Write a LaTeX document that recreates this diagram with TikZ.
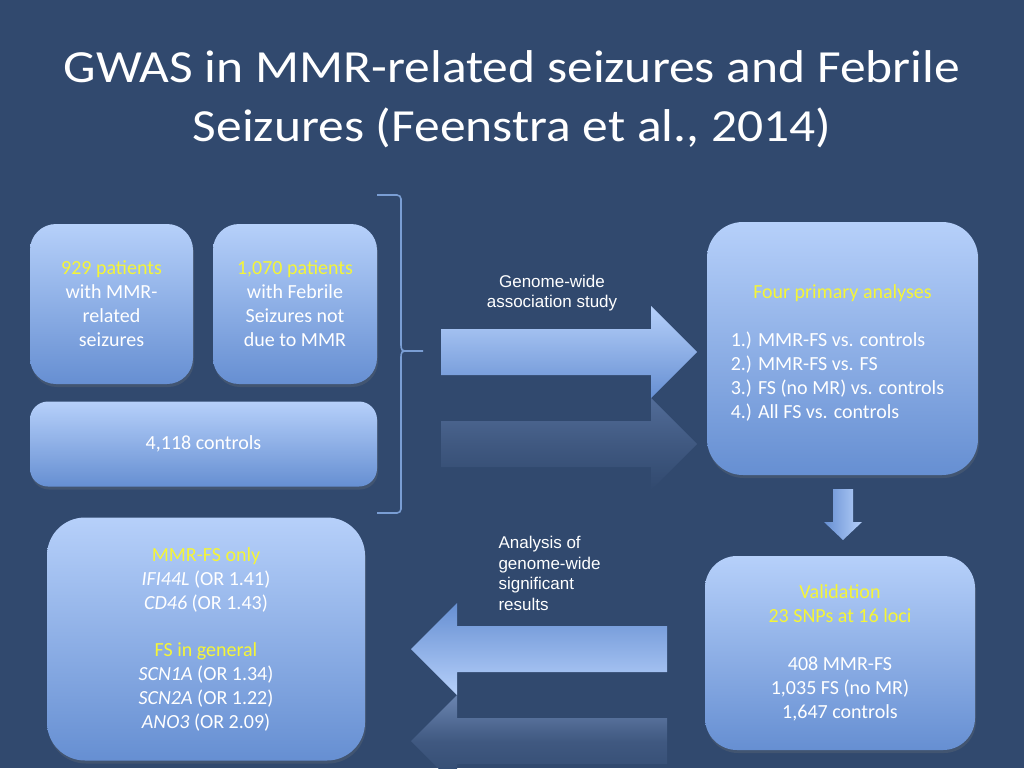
\documentclass[tikz,border=0pt]{standalone}
\usepackage{fontspec}
\setmainfont{Carlito}
\newfontfamily\titlefont[FakeStretch=1.12]{Carlito}
\newfontfamily\labelfont{Liberation Sans}
\usepackage{xcolor}
\usetikzlibrary{shapes,arrows,positioning,shadows,calc}
\definecolor{bg}{RGB}{49,73,110}
\definecolor{boxtop}{RGB}{182,208,250}
\definecolor{boxbot}{RGB}{102,143,210}
\definecolor{yel}{RGB}{245,245,55}
\definecolor{bracecol}{RGB}{122,158,212}
\definecolor{refl}{RGB}{82,108,152}

\begin{document}
\begin{tikzpicture}[x=1pt,y=-1pt,
  box/.style={rectangle, top color=boxtop, bottom color=boxbot, text=white, align=center,
    inner sep=0pt, font=\fontsize{20}{24}\selectfont,
    drop shadow={opacity=0.22, shadow xshift=1pt, shadow yshift=-3pt}},
  lbl/.style={text=white, font=\labelfont\fontsize{17}{20.5}\selectfont},
  brc/.style={bracecol, line width=1.6pt}]
\useasboundingbox (0,0) rectangle (1024,768);
\fill[bg] (0,0) rectangle (1024,768);

\node[text=white, font=\titlefont\fontsize{46}{59}\selectfont, align=center] (title) at (512,99)
  {GWAS in MMR-related seizures and Febrile\\Seizures (Feenstra et al., 2014)};

\node[box, rounded corners=26pt, minimum width=163pt, minimum height=160pt] (mmr) at (111.5,304)
  {\color{yel}929 patients\\with MMR-\\related\\seizures};
\node[box, rounded corners=26pt, minimum width=164pt, minimum height=160pt] (febrile) at (295,304)
  {\color{yel}1,070 patients\\with Febrile\\Seizures not\\due to MMR};
\node[box, rounded corners=18pt, minimum width=347pt, minimum height=85pt] (controls) at (203.5,444)
  {4,118 controls};

\coordinate (bracetip) at (423,351);
\draw[brc, rounded corners=4pt] (377,195) -- (401,195) -- (401,343);
\draw[brc] (401,342) .. controls (401,351) .. (409,351) -- (bracetip);
\draw[brc] (401,360) .. controls (401,351) .. (409,351);
\draw[brc, rounded corners=4pt] (401,359) -- (401,513) -- (377,513);

\shade[top color=refl, bottom color=bg, middle color=bg!55!refl]
  (441,421) -- (651,421) -- (651,398) -- (697,444) -- (651,490) -- (651,467) -- (441,467) -- cycle;
\shade[top color=boxtop, bottom color=boxbot]
  (441,329) -- (651,329) -- (651,306) -- (697,352) -- (651,398) -- (651,375) -- (441,375) -- cycle;
\node[lbl, align=center] (gwaslbl) at (552,293) {Genome-wide\\association study};

\node[box, rounded corners=36pt, minimum width=271pt, minimum height=253pt] (four) at (842.5,348.5)
  {\rule{0pt}{28pt}\color{yel}Four primary analyses\\[24pt]
   \begin{tabular}[t]{@{}l@{}}1.) MMR-FS vs. controls\\2.) MMR-FS vs. FS\\3.) FS (no MR) vs. controls\\4.) All FS vs. controls\end{tabular}\hspace*{10pt}};

\shade[left color=boxbot, right color=boxtop]
  (833,489) -- (853,489) -- (853,522) -- (862,522) -- (843,540) -- (824,522) -- (833,522) -- cycle;

\node[box, rounded corners=32pt, minimum width=270pt, minimum height=194pt] (valid) at (840,653)
  {\color{yel}Validation\\\color{yel}23 SNPs at 16 loci\\[24pt]408 MMR-FS\\1,035 FS (no MR)\\1,647 controls};

\shade[top color=refl!75!boxtop, bottom color=bg, middle color=bg!55!refl]
  (667,718) -- (457,718) -- (457,695) -- (411,741) -- (457,787) -- (457,764) -- (667,764) -- cycle;
\shade[top color=boxbot, bottom color=boxtop]
  (667,626) -- (457,626) -- (457,603) -- (411,649) -- (457,695) -- (457,672) -- (667,672) -- cycle;
\node[lbl, align=left, anchor=north west] (reslbl) at (495,533) {Analysis of\\genome-wide\\significant\\results};

\node[box, rounded corners=38pt, minimum width=318pt, minimum height=243pt] (genes) at (206,639)
  {\color{yel}MMR-FS only\\\textit{IFI44L} (OR 1.41)\\\textit{CD46} (OR 1.43)\\[23pt]
   \color{yel}FS in general\\\textit{SCN1A} (OR 1.34)\\\textit{SCN2A} (OR 1.22)\\\textit{ANO3} (OR 2.09)};
\end{tikzpicture}
\end{document}
